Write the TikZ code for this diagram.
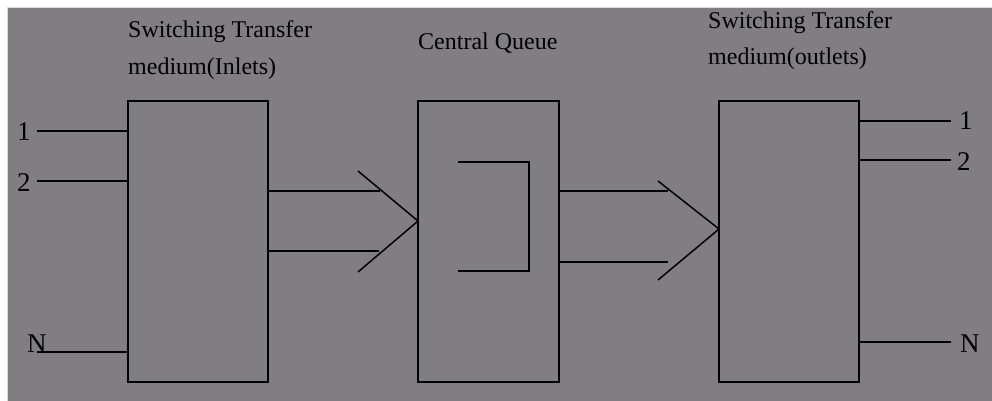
\documentclass[tikz,border=0pt]{standalone}
\usepackage{fontspec}
\setmainfont{Liberation Serif}
\definecolor{bggray}{RGB}{128,126,128}
\begin{document}
\begin{tikzpicture}[x=1pt,y=-1pt,
  blk/.style={draw=black, line width=2pt, minimum width=140pt, minimum height=281pt, inner sep=0pt, outer sep=0pt},
  wire/.style={line width=2pt, black},
  arm/.style={line width=1.5pt, black},
  title/.style={anchor=base west, inner sep=0pt, font=\fontsize{24}{28}\selectfont},
  lab/.style={anchor=base west, inner sep=0pt, font=\fontsize{27}{30}\selectfont}]
\useasboundingbox (0,0) rectangle (992,401);
\fill[white] (0,0) rectangle (992,401);
\fill[bggray] (7,7) rectangle (992,401);
\draw[gray!30, line width=1pt] (7.5,401) -- (7.5,7.5) -- (992,7.5);

% boxes
\node[blk] (b1) at (198,241.5) {};
\node[blk, minimum width=141pt] (b2) at (488.5,241.5) {};
\node[blk] (b3) at (789,241.5) {};

% titles
\node[title] (t1a) at (128,38) {Switching Transfer};
\node[title] (t1b) at (128,75) {medium(Inlets)};
\node[title] (t2) at (418,50) {Central Queue};
\node[title] (t3a) at (708,29) {Switching Transfer};
\node[title] (t3b) at (708,65) {medium(outlets)};

% inlet labels and wires
\node[lab] (l1) at (17,140) {1};
\node[lab] (l2) at (17,191) {2};
\node[lab] (lN) at (27,352) {N};
\coordinate (i1) at (37,131);
\coordinate (i2) at (37,181);
\coordinate (iN) at (37,352);
\draw[wire] (i1) -- (i1 -| b1.west);
\draw[wire] (i2) -- (i2 -| b1.west);
\draw[wire] (iN) -- (iN -| b1.west);

% outlet labels and wires
\node[lab] (r1) at (959,129) {1};
\node[lab] (r2) at (957,170) {2};
\node[lab] (rN) at (960,352) {N};
\coordinate (o1) at (951,121);
\coordinate (o2) at (951,160);
\coordinate (oN) at (951,342);
\draw[wire] (o1 -| b3.east) -- (o1);
\draw[wire] (o2 -| b3.east) -- (o2);
\draw[wire] (oN -| b3.east) -- (oN);

% arrow 1 : b1 -> b2
\coordinate (a1t) at (380,191);
\coordinate (a1b) at (379,251);
\draw[wire] (a1t -| b1.east) -- (a1t);
\draw[wire] (a1b -| b1.east) -- (a1b);
\coordinate (c1tip) at (b2.west |- 0,221);
\draw[arm] (358,171) -- (c1tip) -- (358,272);

% arrow 2 : b2 -> b3
\coordinate (a2t) at (668,191);
\coordinate (a2b) at (668,262);
\draw[wire] (a2t -| b2.east) -- (a2t);
\draw[wire] (a2b -| b2.east) -- (a2b);
\coordinate (c2tip) at (b3.west |- 0,229);
\draw[arm] (658,181) -- (c2tip) -- (658,280);

% queue bracket inside central box
\draw[wire] (458,162) -- (529,162) -- (529,271) -- (458,271);
\end{tikzpicture}
\end{document}
